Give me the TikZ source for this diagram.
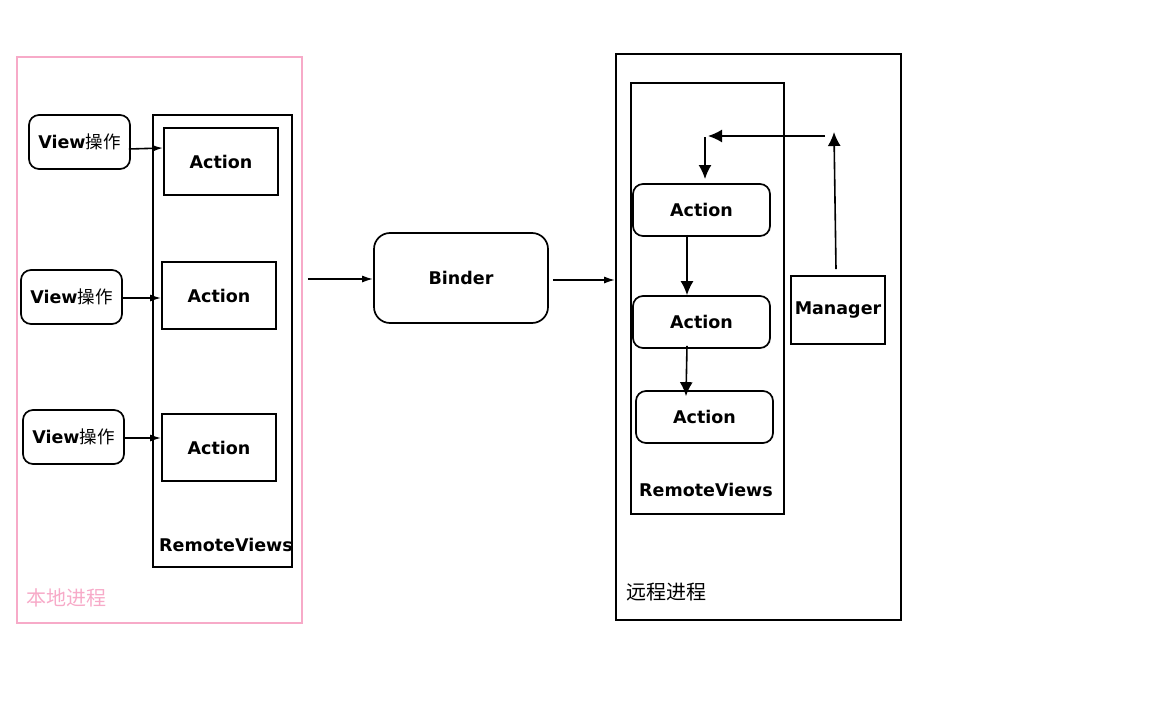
\documentclass[tikz,border=0pt]{standalone}
\usepackage{fontspec}
\setmainfont{DejaVu Sans}
\newfontfamily\cjk{Noto Sans CJK SC}
\usetikzlibrary{arrows.meta}
\definecolor{pinkline}{RGB}{247,170,200}
\begin{document}
\begin{tikzpicture}[x=1pt,y=-1pt,
  every node/.style={font=\fontsize{17.5}{20}\selectfont\bfseries, inner sep=0pt},
  box/.style={draw, line width=1.7pt, rectangle},
  rbox/.style={draw, line width=1.7pt, rectangle, rounded corners=10pt},
  smallarr/.style={line width=1.6pt, -{Latex[length=11pt,width=7pt]}},
  bigarr/.style={line width=1.6pt, -{Latex[length=14pt,width=13pt]}},
  cjklabel/.style={font=\fontsize{20}{23}\selectfont\cjk}
]
\useasboundingbox (0,0) rectangle (1170,704);
% left process
\node[draw=pinkline, line width=1.7pt, minimum width=285pt, minimum height=566pt] (local) at (159.5,340) {};
\node[cjklabel, text=pinkline] (locallbl) at (67,598) {本地进程};
\node[box, minimum width=139pt, minimum height=452pt] (lrv) at (222.5,341) {};
\node (lrvlbl) at (226,545) {RemoteViews};
\node[box, minimum width=114pt, minimum height=67pt] (la1) at (221,161.5) {Action};
\node[box, minimum width=114pt, minimum height=67pt] (la2) at (219,295.5) {Action};
\node[box, minimum width=114pt, minimum height=67pt] (la3) at (219,447.5) {Action};
\node[rbox, minimum width=101pt, minimum height=54pt] (v1) at (79.5,142) {View{\mdseries\cjk 操作}};
\node[rbox, minimum width=101pt, minimum height=54pt] (v2) at (71.5,297) {View{\mdseries\cjk 操作}};
\node[rbox, minimum width=101pt, minimum height=54pt] (v3) at (73.5,437) {View{\mdseries\cjk 操作}};
\draw[smallarr] ([xshift=-2pt]v1.east |- 0,149) -- (la1.west |- 0,148);
\draw[smallarr] (v2.east |- 0,298) -- (la2.west |- 0,298);
\draw[smallarr] (v3.east |- 0,438) -- (la3.west |- 0,438);
% binder
\node[rbox, rounded corners=16pt, minimum width=174pt, minimum height=90pt] (binder) at (461,278) {Binder};
\draw[smallarr] ([xshift=5pt]local.east |- 0,279) -- (binder.west |- 0,279);
% right process
\node[box, minimum width=285pt, minimum height=566pt] (remote) at (758.5,337) {};
\draw[smallarr] ([xshift=4pt]binder.east |- 0,280) -- (remote.west |- 0,280);
\node[cjklabel] (remotelbl) at (666,592) {远程进程};
\node[box, minimum width=153pt, minimum height=431pt] (rrv) at (707.5,298.5) {};
\node (rrvlbl) at (706,490) {RemoteViews};
\node[rbox, minimum width=137pt, minimum height=52pt] (ra1) at (701.5,210) {Action};
\node[rbox, minimum width=137pt, minimum height=52pt] (ra2) at (701.5,322) {Action};
\node[rbox, minimum width=137pt, minimum height=52pt] (ra3) at (704.5,417) {Action};
\node[box, minimum width=94pt, minimum height=68pt] (mgr) at (838,310) {Manager};
\coordinate (top) at (834,132);
\coordinate (hr) at (825,136);
\coordinate (hl) at (708,136);
\coordinate (dtop) at (705,137);
\draw[bigarr] ([xshift=-2pt,yshift=6pt]mgr.north) -- (top);
\draw[bigarr] (hr) -- (hl);
\draw[bigarr] (dtop) -- (dtop |- 0,179);
\draw[bigarr] ([xshift=-14.5pt,yshift=2pt]ra1.south) -- ([xshift=-14.5pt]ra2.north);
\draw[bigarr] ([xshift=-14.5pt,yshift=3pt]ra2.south) -- ([xshift=-18.5pt,yshift=-6pt]ra3.north);
\end{tikzpicture}
\end{document}
